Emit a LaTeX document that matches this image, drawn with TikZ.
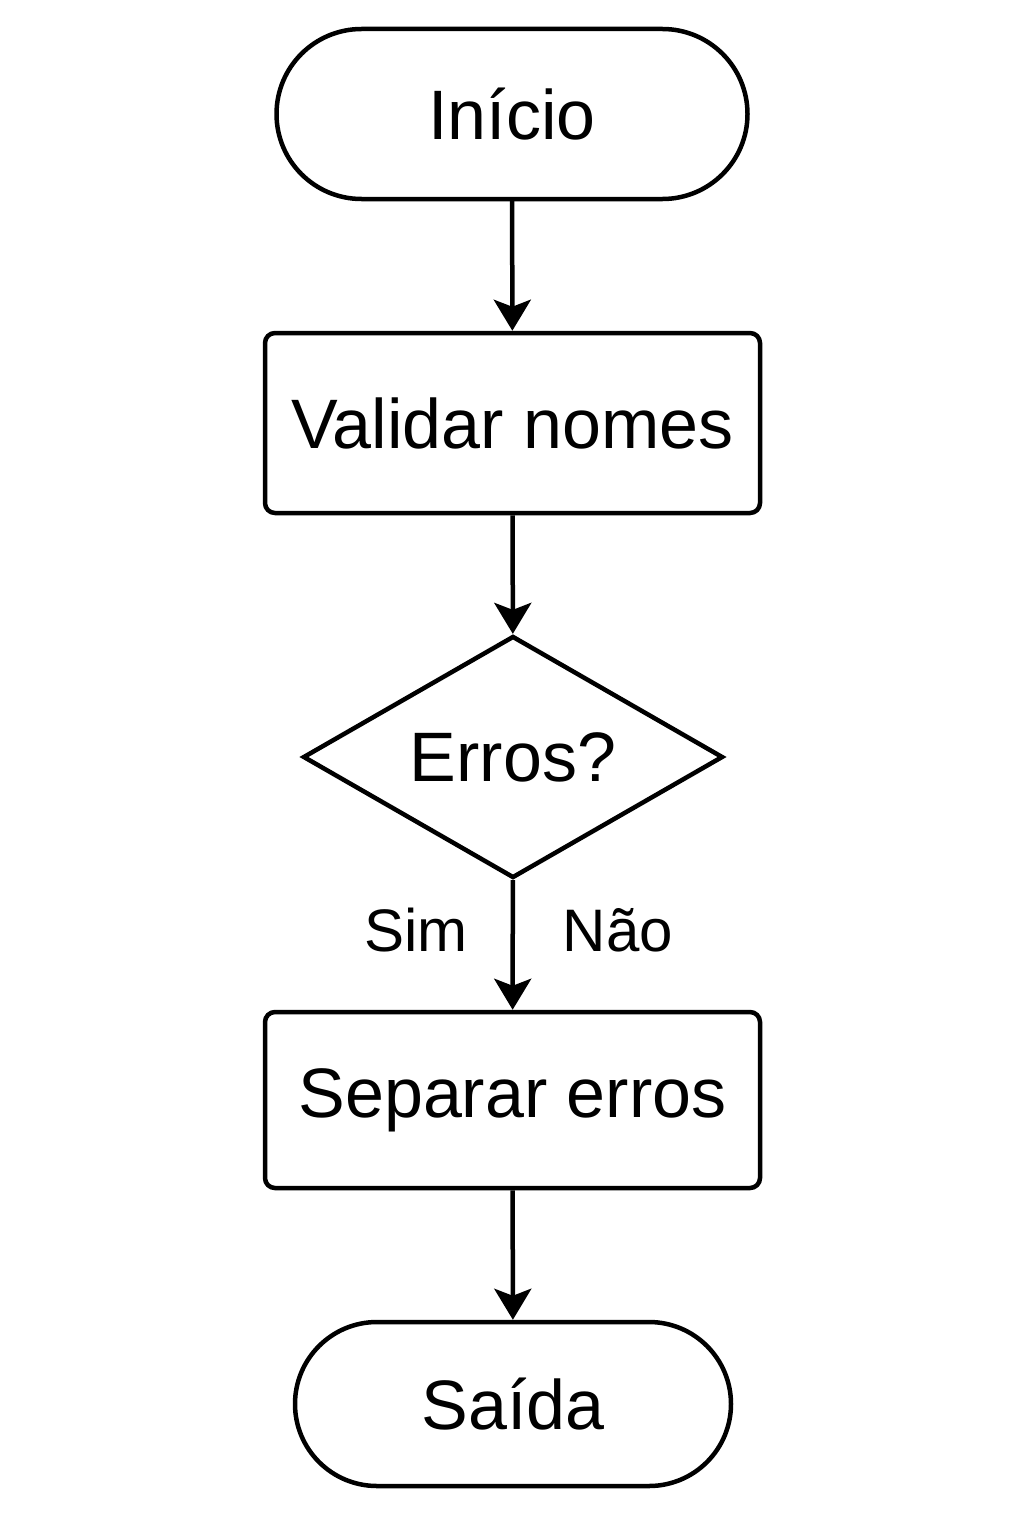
\documentclass[tikz,border=0pt]{standalone}
\usepackage{fontspec}
\setmainfont{Liberation Sans}
\usetikzlibrary{shapes.geometric,arrows.meta}
\begin{document}
\begin{tikzpicture}[x=1pt,y=-1pt,
  every node/.style={font=\fontsize{70}{80}\selectfont},
  stadium/.style={draw,line width=4.5pt,rounded rectangle,inner sep=0pt},
  procbox/.style={draw,line width=4.5pt,rounded corners=10pt,inner sep=0pt},
  decision/.style={draw,line width=4.5pt,diamond,inner sep=0pt},
  lbl/.style={font=\fontsize{60}{70}\selectfont},
  conn/.style={line width=4.5pt,-{Stealth[length=31pt,width=37pt,inset=7pt]}}]
\useasboundingbox (0,0) rectangle (1024,1536);
\usetikzlibrary{shapes.misc}
\node[stadium,minimum width=471pt,minimum height=170pt] (start) at (512,114) {Início};
\node[procbox,minimum width=495pt,minimum height=180pt] (valid) at (512.5,423) {Validar nomes};
\node[decision,minimum width=420pt,minimum height=242pt,aspect=1.74] (dec) at (513,757) {Erros?};
\node[procbox,minimum width=495pt,minimum height=176pt] (sep) at (512.5,1100) {Separar erros};
\node[stadium,minimum width=436pt,minimum height=164pt] (out) at (513,1404) {Saída};
\node[lbl] (sim) at (416,930) {Sim};
\node[lbl] (nao) at (618,930) {Não};
\draw[conn] (start) -- (valid);
\draw[conn] (valid) -- (dec);
\draw[conn] (dec) -- (sep);
\draw[conn] (sep) -- (out);
\end{tikzpicture}
\end{document}
